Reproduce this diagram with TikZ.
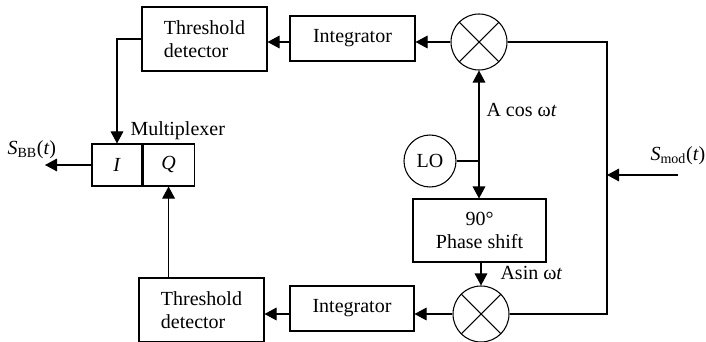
\documentclass[tikz,border=0pt]{standalone}
\usepackage{fontspec}
\setmainfont{Liberation Serif}
\usetikzlibrary{arrows.meta}
\begin{document}
\begin{tikzpicture}[x=0.75pt,y=-0.75pt,
  line width=0.8pt,
  every node/.style={font=\fontsize{15}{17.5}\selectfont},
  blk/.style={draw,rectangle,inner sep=0pt,align=left},
  mixer/.style={draw,circle,inner sep=0pt,minimum size=42pt,
    path picture={\draw[line width=0.8pt]
      (path picture bounding box.south west)--(path picture bounding box.north east)
      (path picture bounding box.north west)--(path picture bounding box.south east);}},
  osc/.style={draw,circle,inner sep=0pt,minimum size=39pt},
  arr/.style={-{Triangle[length=9pt,width=9.5pt]}},
  lbl/.style={inner sep=0pt,anchor=west}]
\useasboundingbox (0,0) rectangle (706,342);

% upper (cosine) branch
\node[blk,minimum width=93.75pt,minimum height=48pt] (td1) at (204.5,39) {Threshold\\detector};
\node[blk,minimum width=93.75pt,minimum height=33.75pt] (int1) at (352.5,38.5) {Integrator};
\node[mixer] (mix1) at (479,42) {};

% local oscillator and phase shifter
\node[osc] (lo) at (430,161) {LO};
\node[blk,align=center,minimum width=99.75pt,minimum height=47.25pt] (ps) at (479.5,230.5) {90°\\Phase shift};

% lower (sine) branch
\node[mixer] (mix2) at (481,314) {};
\node[blk,minimum width=93pt,minimum height=33.75pt] (int2) at (352,308.5) {Integrator};
\node[blk,minimum width=93.75pt,minimum height=48pt] (td2) at (201.5,310) {Threshold\\detector};

% multiplexer
\node[blk,minimum width=37.5pt,minimum height=31.5pt] (muxI) at (117,165) {\textit{I}};
\node[blk,minimum width=38.25pt,minimum height=31.5pt,anchor=west] (muxQ) at (muxI.east) {\textit{Q}};
\node[lbl] (muxlbl) at (130,131) {Multiplexer};

% free ends
\coordinate (jn) at (479,161);
\coordinate (bus) at (607,175);
\coordinate (smod) at (678,175);
\coordinate (out) at (45,165);

% connectors
\draw[arr] (mix1.west) -- (mix1.west -| int1.east);
\draw[arr] (int1.west |- mix1.west) -- (td1.east |- mix1.west);
\draw[arr] (td1.west) -| (muxI.north);
\draw[arr] (jn) -- (mix1.south);
\draw[arr] (jn) -- (ps.north -| jn);
\draw (lo.east) -- (jn);
\draw[arr] (ps.south -| mix2.north) -- (mix2.north);
\draw[arr] (mix2.west) -- (mix2.west -| int2.east);
\draw[arr] (int2.west |- mix2.west) -- (td2.east |- mix2.west);
\draw[arr] (td2.north -| muxQ.south) -- (muxQ.south);
\draw (mix1.east) -| (bus) |- (mix2.east);
\draw[arr] (smod) -- (bus);
\draw[arr] (muxI.west) -- (out);

% signal labels
\node[lbl] (cosl) at (486,110) {A cos ω\textit{t}};
\node[lbl] (sinl) at (500,273) {Asin ω\textit{t}};
\node[lbl] (smodl) at (650,156) {\textit{S}\textsubscript{mod}(\textit{t})};
\node[lbl] (sbbl) at (7,150) {\textit{S}\textsubscript{BB}(\textit{t})};
\end{tikzpicture}
\end{document}
